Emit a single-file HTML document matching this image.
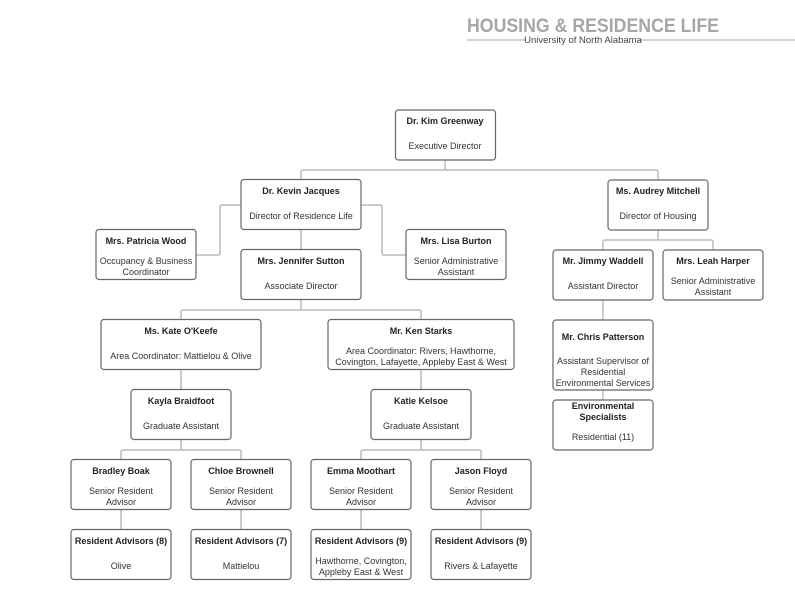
<!DOCTYPE html>
<html><head><meta charset="utf-8"><style>
html,body{margin:0;padding:0;background:#fff;width:795px;height:602px;overflow:hidden}
svg{display:block}
text{font-family:"Liberation Sans",sans-serif;font-size:9px;fill:#333;text-anchor:middle}
.b{font-weight:bold;fill:#222}
.box{fill:#fff;stroke:#666;stroke-width:1.2}
.c{fill:none;stroke:#bbb;stroke-width:1.5}
</style></head><body>
<svg width="795" height="602" viewBox="0 0 795 602">
<text x="467" y="32" textLength="252" lengthAdjust="spacingAndGlyphs" style="font-size:19px;font-weight:bold;fill:#a6a6a6;text-anchor:start">HOUSING &amp; RESIDENCE LIFE</text>
<line x1="467" y1="40" x2="795" y2="40" stroke="#bbb" stroke-width="1.2"/>
<rect x="526" y="34" width="113" height="10" fill="#fff"/>
<text x="583" y="43" style="font-size:9.5px;fill:#444">University of North Alabama</text>

<!-- connectors -->
<path class="c" d="M445 160V168q0 2 -2 2H303q-2 0 -2 2V180"/>
<path class="c" d="M445 170H656q2 0 2 2V180"/>
<path class="c" d="M241 205H222q-2 0 -2 2V253q0 2 -2 2H196"/>
<path class="c" d="M361 205H380q2 0 2 2V253q0 2 2 2H406"/>
<path class="c" d="M301 230V250"/>
<path class="c" d="M301 300V308q0 2 -2 2H183q-2 0 -2 2V320"/>
<path class="c" d="M301 310H419q2 0 2 2V320"/>
<path class="c" d="M181 370V390"/>
<path class="c" d="M421 370V390"/>
<path class="c" d="M181 440V448q0 2 -2 2H123q-2 0 -2 2V460"/>
<path class="c" d="M181 450H239q2 0 2 2V460"/>
<path class="c" d="M421 440V448q0 2 -2 2H363q-2 0 -2 2V460"/>
<path class="c" d="M421 450H479q2 0 2 2V460"/>
<path class="c" d="M121 510V530M241 510V530M361 510V530M481 510V530"/>
<path class="c" d="M658 230V238q0 2 -2 2H605q-2 0 -2 2V250"/>
<path class="c" d="M658 240H711q2 0 2 2V250"/>
<path class="c" d="M603 300V320M603 390V400"/>

<!-- boxes -->
<rect class="box" x="395.5" y="110" width="100" height="50" rx="3"/>
<text class="b" x="445" y="124">Dr. Kim Greenway</text><text x="445" y="149">Executive Director</text>

<rect class="box" x="241" y="179.5" width="120" height="50" rx="3"/>
<text class="b" x="301" y="194">Dr. Kevin Jacques</text><text x="301" y="219">Director of Residence Life</text>

<rect class="box" x="608" y="180" width="100" height="50" rx="3"/>
<text class="b" x="658" y="194">Ms. Audrey Mitchell</text><text x="658" y="219">Director of Housing</text>

<rect class="box" x="96" y="229.5" width="100" height="50" rx="3"/>
<text class="b" x="146" y="244">Mrs. Patricia Wood</text><text x="146" y="264">Occupancy &amp; Business</text><text x="146" y="275">Coordinator</text>

<rect class="box" x="241" y="249.5" width="120" height="50" rx="3"/>
<text class="b" x="301" y="264">Mrs. Jennifer Sutton</text><text x="301" y="289">Associate Director</text>

<rect class="box" x="406" y="229.5" width="100" height="50" rx="3"/>
<text class="b" x="456" y="244">Mrs. Lisa Burton</text><text x="456" y="264">Senior Administrative</text><text x="456" y="275">Assistant</text>

<rect class="box" x="553" y="250" width="100" height="50" rx="3"/>
<text class="b" x="603" y="264">Mr. Jimmy Waddell</text><text x="603" y="289">Assistant Director</text>

<rect class="box" x="663" y="250" width="100" height="50" rx="3"/>
<text class="b" x="713" y="264">Mrs. Leah Harper</text><text x="713" y="284">Senior Administrative</text><text x="713" y="295">Assistant</text>

<rect class="box" x="101" y="319.5" width="160" height="50" rx="3"/>
<text class="b" x="181" y="334">Ms. Kate O'Keefe</text><text x="181" y="359">Area Coordinator: Mattielou &amp; Olive</text>

<rect class="box" x="328" y="319.5" width="186" height="50" rx="3"/>
<text class="b" x="421" y="334">Mr. Ken Starks</text><text x="421" y="354">Area Coordinator: Rivers, Hawthorne,</text><text x="421" y="365">Covington, Lafayette, Appleby East &amp; West</text>

<rect class="box" x="553" y="320" width="100" height="70" rx="3"/>
<text class="b" x="603" y="340">Mr. Chris Patterson</text><text x="603" y="364">Assistant Supervisor of</text><text x="603" y="375">Residential</text><text x="603" y="386">Environmental Services</text>

<rect class="box" x="553" y="400" width="100" height="50" rx="3"/>
<text class="b" x="603" y="409">Environmental</text><text class="b" x="603" y="420">Specialists</text><text x="603" y="440">Residential (11)</text>

<rect class="box" x="131" y="389.5" width="100" height="50" rx="3"/>
<text class="b" x="181" y="404">Kayla Braidfoot</text><text x="181" y="429">Graduate Assistant</text>

<rect class="box" x="371" y="389.5" width="100" height="50" rx="3"/>
<text class="b" x="421" y="404">Katie Kelsoe</text><text x="421" y="429">Graduate Assistant</text>

<rect class="box" x="71" y="459.5" width="100" height="50" rx="3"/>
<text class="b" x="121" y="474">Bradley Boak</text><text x="121" y="494">Senior Resident</text><text x="121" y="505">Advisor</text>
<rect class="box" x="191" y="459.5" width="100" height="50" rx="3"/>
<text class="b" x="241" y="474">Chloe Brownell</text><text x="241" y="494">Senior Resident</text><text x="241" y="505">Advisor</text>
<rect class="box" x="311" y="459.5" width="100" height="50" rx="3"/>
<text class="b" x="361" y="474">Emma Moothart</text><text x="361" y="494">Senior Resident</text><text x="361" y="505">Advisor</text>
<rect class="box" x="431" y="459.5" width="100" height="50" rx="3"/>
<text class="b" x="481" y="474">Jason Floyd</text><text x="481" y="494">Senior Resident</text><text x="481" y="505">Advisor</text>

<rect class="box" x="71" y="529.5" width="100" height="50" rx="3"/>
<text class="b" x="121" y="544">Resident Advisors (8)</text><text x="121" y="569">Olive</text>
<rect class="box" x="191" y="529.5" width="100" height="50" rx="3"/>
<text class="b" x="241" y="544">Resident Advisors (7)</text><text x="241" y="569">Mattielou</text>
<rect class="box" x="311" y="529.5" width="100" height="50" rx="3"/>
<text class="b" x="361" y="544">Resident Advisors (9)</text><text x="361" y="564">Hawthorne, Covington,</text><text x="361" y="575">Appleby East &amp; West</text>
<rect class="box" x="431" y="529.5" width="100" height="50" rx="3"/>
<text class="b" x="481" y="544">Resident Advisors (9)</text><text x="481" y="569">Rivers &amp; Lafayette</text>
</svg>
</body></html>
